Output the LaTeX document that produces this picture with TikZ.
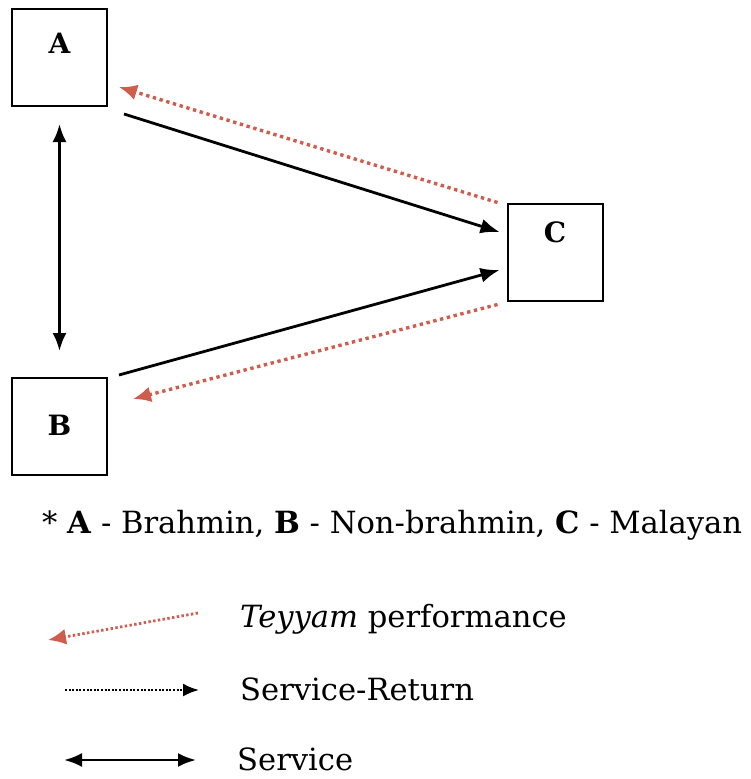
\documentclass[tikz,border=0pt]{standalone}
\usepackage{fontspec}
\setmainfont{DejaVu Serif}
\usetikzlibrary{arrows.meta}
\definecolor{perfred}{RGB}{208,92,78}
\tikzset{
  box/.style={draw, line width=2pt, inner sep=0pt, minimum width=95pt, minimum height=97pt},
  boxlabel/.style={inner sep=0pt, font=\fontsize{28}{32}\selectfont\bfseries},
  service/.style={line width=2.8pt, -{Latex[length=19pt,width=15pt]}},
  twoway/.style={line width=2.8pt, {Latex[length=18pt,width=14pt]}-{Latex[length=18pt,width=14pt]}},
  perf/.style={perfred, line width=3.4pt, dash pattern=on 3.4pt off 3.6pt,
    -{Latex[length=18pt,width=16pt]}},
  ret/.style={line width=2.2pt, dash pattern=on 2pt off 1.6pt,
    -{Latex[length=16pt,width=13pt]}},
  legendtext/.style={anchor=base west, inner sep=0pt, font=\fontsize{30.6}{36}\selectfont},
}
\begin{document}
\begin{tikzpicture}[x=1pt, y=-1pt]
  \useasboundingbox (0,0) rectangle (751,779);

  % the three caste groups
  \node[box] (A) at (59.5,57.5) {};
  \node[box] (B) at (59.5,426.5) {};
  \node[box] (C) at (555,252) {};
  \node[boxlabel] (la) at (59.5,43.5) {A};
  \node[boxlabel] (lb) at (59.5,425.5) {B};
  \node[boxlabel] (lc) at (555,232.5) {C};

  % service relations
  \draw[service] ([shift={(16,7)}]A.south east) -- ([shift={(-7,-20)}]C.west);
  \draw[service] ([shift={(11,-2)}]B.north east) -- ([shift={(-7,18)}]C.west);
  \draw[twoway] ([shift={(0,17)}]A.south) -- ([shift={(0,-26)}]B.north);

  % teyyam performance
  \draw[perf] ([shift={(-9,0)}]C.north west) -- ([shift={(11,-20)}]A.south east);
  \draw[perf] ([shift={(-9,3)}]C.south west) -- ([shift={(25,22)}]B.north east);

  % key
  \node[legendtext] (key) at (42,533)
    {* \textbf{A} - Brahmin, \textbf{B} - Non-brahmin, \textbf{C} - Malayan};

  \node[legendtext] (tp) at (240,627) {\textit{Teyyam} performance};
  \node[legendtext] (sr) at (240,700) {Service-Return};
  \node[legendtext] (sv) at (237,770) {Service};

  \coordinate (tp1) at (198,613);
  \coordinate (tp2) at (48,640);
  \coordinate (sr1) at (65,690);
  \coordinate (sr2) at (199,690);
  \coordinate (sv1) at (64,760);
  \coordinate (sv2) at (196,760);

  \draw[perf, line width=2.8pt, dash pattern=on 2.4pt off 2.4pt] (tp1) -- (tp2);
  \draw[ret] (sr1) -- (sr2);
  \draw[twoway] (sv1) -- (sv2);
\end{tikzpicture}
\end{document}
